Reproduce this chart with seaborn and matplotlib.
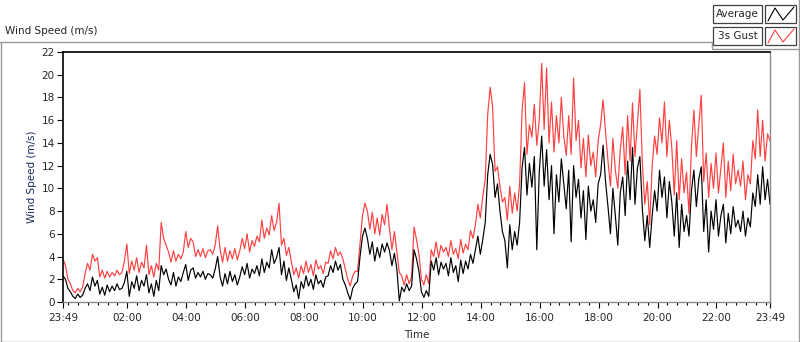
import numpy as np
import pandas as pd
import seaborn as sns
import matplotlib
matplotlib.use("Agg")
import matplotlib.pyplot as plt
import matplotlib.dates as mdates
from matplotlib.lines import Line2D
from matplotlib.patches import Rectangle

# 5-minute samples from 23:49 to 23:49 the next day (one row per hour)
avg_speed = [
    2.3, 2.0, 1.2, 0.9, 0.5, 0.3, 0.7, 0.4, 0.6, 1.2, 1.6, 1.0,
    2.2, 1.4, 1.9, 0.7, 1.3, 0.6, 1.5, 0.9, 1.4, 1.0, 1.6, 1.1,
    1.2, 1.7, 2.7, 0.5, 1.8, 1.2, 2.3, 1.0, 1.9, 1.4, 2.4, 0.8,
    1.6, 0.5, 1.9, 1.0, 3.2, 2.4, 2.9, 2.0, 1.5, 2.6, 1.4, 2.2,
    1.8, 2.6, 3.3, 1.9, 2.8, 3.0, 2.1, 2.6, 2.2, 2.7, 2.0, 2.5,
    2.4, 2.1, 2.9, 4.0, 2.2, 1.4, 2.5, 1.6, 2.7, 1.8, 2.4, 1.5,
    2.2, 3.1, 2.4, 3.4, 2.1, 2.9, 2.5, 3.2, 2.3, 3.8, 2.6, 3.5,
    3.0, 4.6, 3.4, 3.9, 4.8, 2.4, 3.6, 1.9, 3.0, 2.0, 0.9, 1.5,
    0.3, 1.8, 1.2, 2.3, 1.4, 2.0, 1.1, 2.4, 1.6, 1.9, 1.3, 2.2,
    2.3, 3.2, 2.6, 3.6, 2.8, 3.3, 2.0, 1.5, 0.8, 0.2, 1.2, 1.6,
    1.8, 4.0, 5.8, 6.5, 5.6, 4.2, 5.3, 3.6, 4.8, 3.9, 5.1, 4.4,
    5.2, 4.5, 3.2, 4.3, 2.9, 0.1, 1.3, 0.9, 1.6, 1.0, 1.4, 4.6,
    3.8, 2.7, 0.9, 0.4, 1.0, 0.5, 3.6, 2.8, 3.9, 2.4, 3.5, 2.9,
    3.4, 2.3, 3.9, 2.6, 3.2, 1.8, 3.7, 2.5, 3.6, 2.9, 4.2, 3.4,
    4.6, 5.8, 4.2, 5.5, 7.0, 11.2, 13.0, 12.1, 9.2, 10.4, 8.0, 6.2,
    5.4, 3.0, 6.8, 4.6, 6.2, 5.0, 7.0, 11.8, 13.6, 9.4, 12.2, 10.1,
    12.8, 4.6, 11.4, 14.6, 10.2, 13.4, 9.0, 12.0, 6.0, 11.2, 8.8, 12.6,
    10.4, 8.2, 11.6, 5.3, 12.0, 9.2, 10.8, 7.4, 9.8, 5.5, 10.2, 8.0,
    9.0, 7.0, 10.4, 11.2, 13.8, 10.6, 8.4, 6.0, 10.0, 7.6, 5.0, 9.6,
    11.0, 7.6, 12.4, 9.0, 13.6, 8.6, 11.8, 12.8, 8.2, 5.4, 7.6, 4.8,
    7.6, 9.8, 8.0, 11.6, 9.2, 11.0, 7.4, 10.6, 8.8, 5.8, 9.6, 4.8,
    8.6, 6.2, 7.6, 5.8, 9.8, 11.6, 8.4, 10.8, 11.9, 6.2, 9.0, 4.4,
    8.0, 6.4, 9.0, 5.8, 7.6, 8.6, 5.2, 7.8, 6.0, 8.4, 6.6, 7.2,
    6.2, 8.0, 5.8, 7.4, 6.6, 9.6, 8.4, 11.2, 8.6, 11.9, 9.0, 10.8, 8.6,
]
gust_speed = [
    3.8, 3.2, 2.0, 1.6, 1.0, 0.8, 1.2, 0.9, 1.3, 2.5, 3.4, 2.8,
    4.2, 3.6, 3.9, 2.2, 2.8, 2.1, 2.7, 2.2, 2.6, 2.3, 2.8, 2.4,
    2.6, 3.6, 5.1, 2.5, 3.6, 2.8, 3.9, 2.6, 3.5, 3.0, 5.0, 2.4,
    3.2, 2.2, 3.4, 2.8, 7.0, 5.6, 5.0, 4.4, 3.5, 4.5, 3.6, 4.2,
    3.8, 4.4, 6.2, 4.8, 5.6, 5.3, 4.0, 4.6, 4.0, 4.7, 3.9, 4.5,
    4.6, 4.2, 5.0, 6.7, 4.6, 3.5, 4.8, 3.6, 4.5, 3.8, 4.7, 3.7,
    4.5, 5.6, 4.7, 6.0, 4.4, 5.4, 4.9, 5.8, 5.3, 7.2, 5.6, 6.5,
    5.9, 7.6, 6.3, 7.0, 8.7, 5.0, 5.6, 4.1, 4.8, 3.6, 2.4, 3.0,
    2.1, 3.2, 2.5, 3.6, 2.6, 3.3, 2.3, 3.7, 2.9, 3.2, 2.5, 3.5,
    3.4, 4.5, 3.8, 4.8, 4.1, 4.4, 3.8, 2.9, 2.0, 1.4, 2.3, 2.7,
    2.7, 5.2, 7.6, 8.7, 8.0, 6.4, 7.9, 6.0, 7.4, 5.9, 7.7, 6.8,
    8.6, 6.4, 4.6, 6.2, 4.4, 2.6, 2.3, 1.5, 2.4, 1.6, 2.2, 6.6,
    5.5, 4.2, 2.0, 1.5, 2.4, 1.6, 4.6, 4.0, 5.3, 3.9, 5.0, 4.4,
    4.8, 4.0, 5.4, 4.2, 4.7, 3.8, 5.5, 4.3, 5.1, 4.6, 6.3, 5.6,
    6.8, 8.6, 7.4, 9.3, 10.8, 16.5, 18.9, 17.2, 11.5, 11.9, 10.2, 8.8,
    9.2, 7.2, 10.2, 7.8, 9.6, 8.0, 10.4, 16.8, 19.3, 13.0, 15.6, 14.5,
    17.4, 13.8, 16.0, 21.0, 15.2, 20.6, 14.0, 17.6, 13.2, 16.4, 14.0, 18.0,
    14.6, 12.9, 16.4, 13.0, 19.7, 14.2, 16.0, 11.8, 14.4, 11.0, 14.7, 12.0,
    13.2, 11.0, 14.2, 15.6, 17.8, 15.0, 12.4, 10.2, 14.4, 11.6, 10.0, 13.4,
    15.4, 11.2, 16.4, 12.4, 17.5, 12.8, 15.8, 18.7, 12.2, 8.6, 10.6, 6.8,
    12.0, 14.6, 13.0, 16.2, 14.0, 17.6, 12.8, 16.0, 13.6, 9.4, 14.2, 9.0,
    12.6, 9.6, 11.4, 7.8, 13.6, 16.9, 12.8, 15.6, 18.2, 10.6, 13.1, 9.2,
    12.2, 10.0, 13.1, 9.6, 11.8, 14.0, 9.2, 12.4, 9.8, 13.0, 10.4, 11.6,
    10.2, 12.4, 9.0, 11.2, 10.4, 14.2, 12.6, 16.9, 12.8, 16.0, 12.4, 14.8, 14.2,
]
start_time = "2014-03-01 23:49"
series_names = ["Average", "3s Gust"]
series_colors = {"Average": "#000000", "3s Gust": "#ff4040"}
hour_ticks = ["02:00", "04:00", "06:00", "08:00", "10:00", "12:00",
              "14:00", "16:00", "18:00", "20:00", "22:00"]
y_ticks = list(range(0, 23, 2))

times = pd.date_range(start_time, periods=len(avg_speed), freq="5min")
df = pd.DataFrame({
    "Time": list(times) * 2,
    "Speed": avg_speed + gust_speed,
    "Series": ["Average"] * len(avg_speed) + ["3s Gust"] * len(gust_speed),
})

sns.set_style("white")
plt.rcParams["font.family"] = ["DejaVu Sans"]
plt.rcParams["font.size"] = 7.5

fig = plt.figure(figsize=(8, 3.42), dpi=100)
ax = fig.add_axes([63 / 800, 1 - 302 / 342, 707 / 800, 250 / 342])

sns.lineplot(data=df, x="Time", y="Speed", hue="Series",
             hue_order=["3s Gust", "Average"], palette=series_colors,
             linewidth=0.85, legend=False, ax=ax)

ax.set_xlim(times[0], times[-1])
ax.set_ylim(0, 22)
ax.set_yticks(y_ticks)

day2 = times[0].normalize() + pd.Timedelta(days=1)
major = [times[0]] + [day2 + pd.Timedelta(h + ":00") for h in hour_ticks] + [times[-1]]
ax.set_xticks(major)
ax.set_xticklabels([t.strftime("%H:%M") for t in major])
ax.xaxis.set_minor_locator(mdates.MinuteLocator(byminute=[0, 20, 40]))

ax.tick_params(axis="both", which="major", direction="out", length=4,
               width=0.8, color="black", labelsize=7.5, pad=2, bottom=True, left=True)
ax.tick_params(axis="x", which="major", pad=4)
ax.tick_params(axis="x", which="minor", direction="out", length=2.5,
               width=0.8, color="black", bottom=True)

ax.set_xlabel("Time", fontsize=7.5, labelpad=5)
ax.set_ylabel("Wind Speed (m/s)", fontsize=7.5, color="#1c2b5c", labelpad=3)

for side in ["top", "left"]:
    ax.spines[side].set_color("black")
    ax.spines[side].set_linewidth(1.2)
for side in ["bottom", "right"]:
    ax.spines[side].set_color("#8a8a8a")
    ax.spines[side].set_linewidth(1.0)

# LabVIEW-style chrome around the graph
fig.text(5 / 800, 1 - 31 / 342, "Wind Speed (m/s)", fontsize=7.5, va="center", ha="left")
gray = "#9a9a9a"
def fline(xs, ys, color=gray, lw=1.0):
    fig.add_artist(Line2D([x / 800 for x in xs], [1 - y / 342 for y in ys],
                          color=color, lw=lw, transform=fig.transFigure))

fline([0, 712], [42, 42])
fline([712, 712], [42, 48])
fline([712, 800], [48.5, 48.5])
fline([0.5, 0.5], [42, 342])
fline([0, 800], [341.5, 341.5])
fline([798.5, 798.5], [0, 342])

legend_rows = [(5, 23), (27, 45)]
for name, (y0, y1) in zip(series_names, legend_rows):
    fig.add_artist(Rectangle((713 / 800, 1 - y1 / 342), 49 / 800, (y1 - y0) / 342,
                             transform=fig.transFigure, facecolor="white",
                             edgecolor="#404040", lw=0.9))
    fig.text(737.5 / 800, 1 - (y0 + y1) / 2 / 342, name, fontsize=7.5,
             ha="center", va="center")
    fig.add_artist(Rectangle((765 / 800, 1 - y1 / 342), 31 / 800, (y1 - y0) / 342,
                             transform=fig.transFigure, facecolor="white",
                             edgecolor="#404040", lw=0.9))
    zx = [768, 775, 783, 794]
    zy = [y1 - 2, y0 + 3, y1 - 3, y0 + 2]
    fline(zx, zy, color=series_colors[name], lw=0.8)

fig.savefig("out.png", dpi=100)
